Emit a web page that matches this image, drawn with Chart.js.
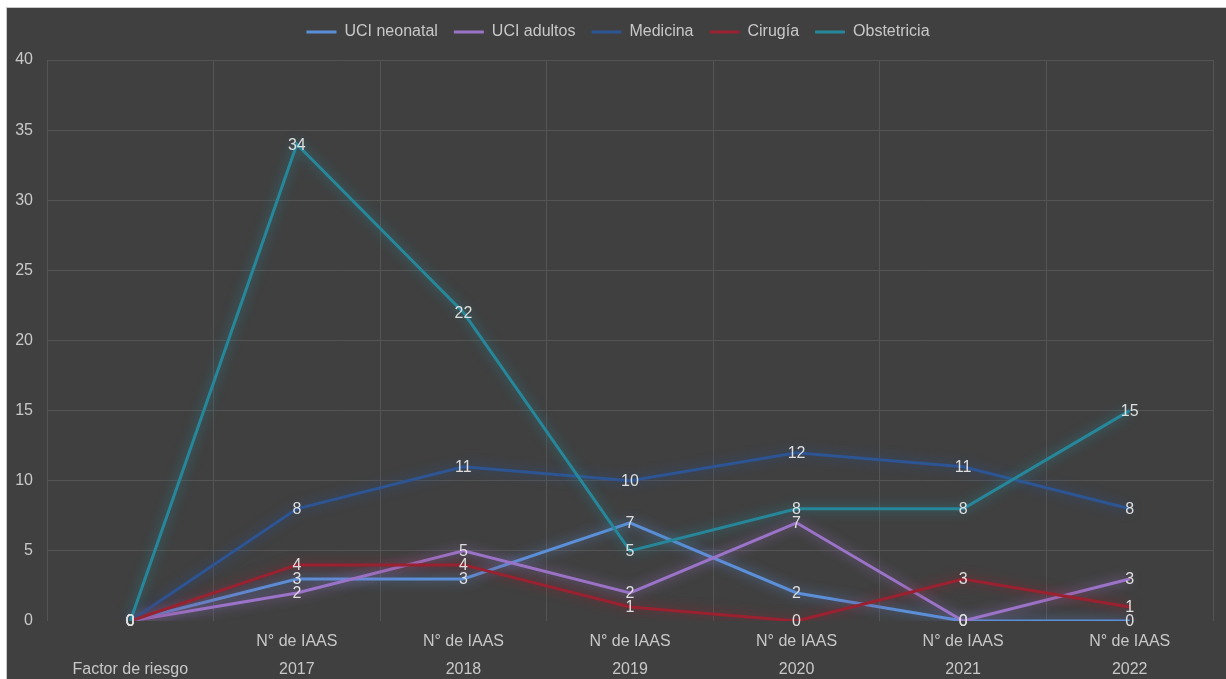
<!DOCTYPE html>
<html lang="es">
<head>
<meta charset="utf-8">
<title>N° de IAAS por servicio</title>
<script src="https://cdn.jsdelivr.net/npm/chart.js@4/dist/chart.umd.min.js"></script>
<style>
  html, body { margin: 0; padding: 0; background: #ffffff; }
  body { width: 1226px; height: 679px; position: relative; overflow: hidden; }
  #frame {
    position: absolute; left: 6px; top: 7px; width: 1219px; height: 671px;
    background: #404040;
    border-left: 1px solid #c9c9c9; border-top: 1px solid #c9c9c9;
  }
  #frame canvas { display: block; }
</style>
</head>
<body>
<div id="frame"><canvas id="chart" width="1219" height="671"></canvas></div>
<script>
// Categories: first row is the measure, second row the period
const rowMeasure = ['', 'N° de IAAS', 'N° de IAAS', 'N° de IAAS', 'N° de IAAS', 'N° de IAAS', 'N° de IAAS'];
const rowPeriod = ['Factor de riesgo', '2017', '2018', '2019', '2020', '2021', '2022'];

const seriesNames = ['UCI neonatal', 'UCI adultos', 'Medicina', 'Cirugía', 'Obstetricia'];
const uciNeonatal = [0, 3, 3, 7, 2, 0, 0];
const uciAdultos = [0, 2, 5, 2, 7, 0, 3];
const medicina = [0, 8, 11, 10, 12, 11, 8];
const cirugia = [0, 4, 4, 1, 0, 3, 1];
const obstetricia = [0, 34, 22, 5, 8, 8, 15];

// Value axis: 0 to 40 in steps of 5
const yMin = 0, yMax = 40, yStep = 5;

const seriesColors = ['#5b8fd8', '#9b74c9', '#2d5493', '#9a2230', '#27879a'];
const glowColors = ['rgba(91,143,216,0.8)', 'rgba(155,116,201,0.8)', 'rgba(45,84,147,0.85)',
                    'rgba(154,34,48,0.85)', 'rgba(39,135,154,0.85)'];

const FONT = '"Liberation Sans", Arial, sans-serif';
const labels = rowMeasure.map((m, i) => [m, rowPeriod[i]]);
const allSeries = [uciNeonatal, uciAdultos, medicina, cirugia, obstetricia];

// Soft glow around each line
const glowPlugin = {
  id: 'lineGlow',
  beforeDatasetDraw(chart, args) {
    const ctx = chart.ctx;
    ctx.save();
    ctx.shadowColor = glowColors[args.index];
    ctx.shadowBlur = 12;
  },
  afterDatasetDraw(chart) {
    chart.ctx.restore();
  }
};

// Value labels centred on each point
const valueLabels = {
  id: 'valueLabels',
  afterDatasetsDraw(chart) {
    const ctx = chart.ctx;
    ctx.save();
    ctx.font = '16px ' + FONT;
    ctx.fillStyle = '#dedede';
    ctx.textAlign = 'center';
    ctx.textBaseline = 'middle';
    chart.data.datasets.forEach((ds, i) => {
      const meta = chart.getDatasetMeta(i);
      meta.data.forEach((pt, j) => {
        ctx.fillText(String(ds.data[j]), pt.x, pt.y + 1);
      });
    });
    ctx.restore();
  }
};

// Legend: extra space below it, and centred over the plot rather than the canvas
const legendTweaks = {
  id: 'legendTweaks',
  beforeUpdate(chart) {
    const lg = chart.legend;
    if (lg && !lg._tweaked) {
      const fit = lg.fit;
      lg.fit = function () { fit.call(this); this.height += 10; };
      const draw = lg.draw;
      lg.draw = function () {
        this.ctx.save();
        this.ctx.translate(8, 0);
        draw.call(this);
        this.ctx.restore();
      };
      lg._tweaked = true;
    }
  }
};

new Chart(document.getElementById('chart'), {
  type: 'line',
  data: {
    labels: labels,
    datasets: seriesNames.map((name, i) => ({
      label: name,
      data: allSeries[i],
      borderColor: seriesColors[i],
      backgroundColor: seriesColors[i],
      borderWidth: 3,
      pointRadius: 0,
      pointHoverRadius: 0,
      tension: 0,
      fill: false,
      order: seriesNames.length - i
    }))
  },
  options: {
    responsive: false,
    animation: false,
    events: [],
    layout: { padding: { left: 0, right: 13, top: 0, bottom: 0 } },
    plugins: {
      tooltip: { enabled: false },
      legend: {
        position: 'top',
        labels: {
          color: '#c8c8c8',
          font: { family: FONT, size: 16 },
          usePointStyle: true,
          pointStyle: 'line',
          pointStyleWidth: 30,
          padding: 16,
          sort: (a, b) => a.datasetIndex - b.datasetIndex
        }
      }
    },
    scales: {
      x: {
        offset: true,
        grid: { offset: true, color: '#545454', lineWidth: 1, drawTicks: false },
        border: { display: false },
        ticks: {
          color: '#c8c8c8',
          font: { family: FONT, size: 16, lineHeight: 1.75 },
          padding: 7,
          autoSkip: false,
          maxRotation: 0
        },
        afterFit(scale) { scale.height = 58; }
      },
      y: {
        min: yMin,
        max: yMax,
        grid: {
          color: ctx => (ctx.tick && ctx.tick.value === 0) ? 'rgba(0,0,0,0)' : '#545454',
          lineWidth: 1,
          drawTicks: false
        },
        border: { display: false },
        ticks: {
          stepSize: yStep,
          color: '#c8c8c8',
          font: { family: FONT, size: 16 },
          padding: 14
        },
        afterFit(scale) { scale.width = 40; }
      }
    }
  },
  plugins: [legendTweaks, glowPlugin, valueLabels]
});
</script>
</body>
</html>
